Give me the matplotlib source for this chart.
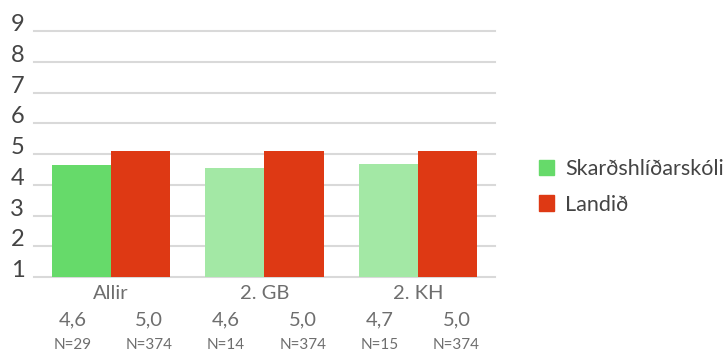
import numpy as np
import matplotlib.pyplot as plt

plt.rcParams['font.family'] = ['Lato', 'DejaVu Sans']

# data
categories = ['Allir', '2. GB', '2. KH']
school = [4.63, 4.56, 4.69]
country = [5.11, 5.11, 5.11]
school_labels = ['4,6', '4,6', '4,7']
country_labels = ['5,0', '5,0', '5,0']
school_n = ['N=29', 'N=14', 'N=15']
country_n = ['N=374', 'N=374', 'N=374']
series_names = ['Skarðshlíðarskóli', 'Landið']

green = '#66da6a'
light_green = '#a3e8a5'
red = '#de3914'
grid_col = '#d9d9d9'
text_col = '#6e6e6e'

fig = plt.figure(figsize=(7.23, 3.56), dpi=100)
ax = fig.add_axes([34/723, 1-277/356, 461/723, (277-28)/356])

x = np.arange(len(categories))
w = 0.385
sc_colors = [green] + [light_green]*(len(categories)-1)
ax.bar(x - w/2, np.array(school) - 1, w, bottom=1, color=sc_colors, zorder=3)
ax.bar(x + w/2, np.array(country) - 1, w, bottom=1, color=red, zorder=3)

ax.set_xlim(-0.5, 2.5)
ax.set_ylim(1, 9.1)
yt = np.arange(1, 10)
ax.set_yticks(yt)
for v in yt:
    ax.axhline(v, color=grid_col, lw=1.5, zorder=1, clip_on=False)
ax.tick_params(axis='y', length=0, pad=7, labelsize=17, labelcolor='#444444')
for t in ax.get_yticklabels():
    t.set_verticalalignment('baseline')

ax.set_xticks(x)
ax.set_xticklabels(categories)
ax.tick_params(axis='x', length=0, pad=6, labelsize=14.5, labelcolor=text_col)

for s in ax.spines.values():
    s.set_visible(False)

for i in range(len(categories)):
    for dx, lab, n in [(-0.25, school_labels[i], school_n[i]), (0.25, country_labels[i], country_n[i])]:
        ax.annotate(lab, xy=(i + dx, 0), xycoords=('data', 'axes fraction'),
                    xytext=(0, -31), textcoords='offset points',
                    ha='center', va='center', fontsize=14.5, color=text_col)
        ax.annotate(n, xy=(i + dx, 0), xycoords=('data', 'axes fraction'),
                    xytext=(0, -49), textcoords='offset points',
                    ha='center', va='center', fontsize=11, color=text_col)

handles = [plt.Rectangle((0, 0), 1, 1, color=green), plt.Rectangle((0, 0), 1, 1, color=red)]
leg = fig.legend(handles, series_names, loc='center left', bbox_to_anchor=(520/723, 1-187/356),
                 frameon=False, fontsize=15.5, handlelength=0.7, handleheight=0.7,
                 handletextpad=0.5, labelspacing=0.7)
for t in leg.get_texts():
    t.set_color('#444444')

fig.savefig('out.png', dpi=100)
